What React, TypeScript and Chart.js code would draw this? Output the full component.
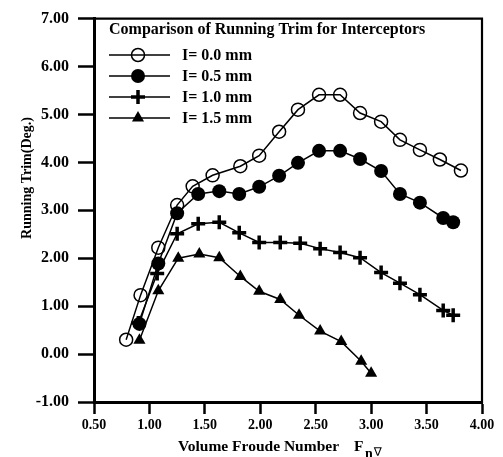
import React, { useEffect, useRef } from "react";
import { Chart, registerables } from "chart.js";

Chart.register(...registerables);

const FONT = "'Liberation Serif', 'Times New Roman', 'DejaVu Serif', serif";

const legendTitle = "Comparison of Running Trim for Interceptors";
const xAxisTitle = "Volume Froude Number";
const xAxisSymbol = "F";
const xAxisSubN = "n";
const xAxisSubNabla = "\u2207";
const yAxisTitle = "Running Trim(Deg.)";

const seriesLabels = ["I= 0.0 mm", "I= 0.5 mm", "I= 1.0 mm", "I= 1.5 mm"];

const fr00 = [0.79, 0.92, 1.08, 1.25, 1.39, 1.57, 1.82, 1.99, 2.17, 2.34, 2.53, 2.72, 2.9, 3.09, 3.26, 3.44, 3.62, 3.81];
const trim00 = [0.3, 1.23, 2.22, 3.11, 3.5, 3.73, 3.92, 4.14, 4.64, 5.1, 5.41, 5.41, 5.03, 4.85, 4.47, 4.26, 4.06, 3.83];

const fr05 = [0.91, 1.08, 1.25, 1.44, 1.63, 1.81, 1.99, 2.17, 2.34, 2.53, 2.72, 2.9, 3.09, 3.26, 3.44, 3.65, 3.74];
const trim05 = [0.63, 1.89, 2.94, 3.34, 3.4, 3.34, 3.49, 3.72, 3.99, 4.24, 4.24, 4.07, 3.82, 3.34, 3.16, 2.84, 2.75];

const fr10 = [0.9, 1.07, 1.25, 1.44, 1.63, 1.81, 1.99, 2.18, 2.36, 2.54, 2.72, 2.9, 3.09, 3.26, 3.44, 3.65, 3.74];
const trim10 = [0.65, 1.68, 2.51, 2.72, 2.75, 2.53, 2.33, 2.33, 2.31, 2.2, 2.12, 2.01, 1.7, 1.48, 1.24, 0.91, 0.81];

const fr15 = [0.91, 1.08, 1.26, 1.45, 1.63, 1.82, 1.99, 2.18, 2.35, 2.54, 2.73, 2.91, 3.0];
const trim15 = [0.29, 1.32, 2.0, 2.09, 2.01, 1.62, 1.31, 1.14, 0.81, 0.48, 0.26, -0.15, -0.4];

const xMin = 0.5;
const xMax = 4.0;
const xStep = 0.5;
const yMin = -1;
const yMax = 7;
const yStep = 1;

const pairs = (xs: number[], ys: number[]) => xs.map((x, i) => ({ x, y: ys[i] }));

type MarkerKind = "open" | "filled" | "cross" | "triangle";
const markerKinds: MarkerKind[] = ["open", "filled", "cross", "triangle"];

function drawMarker(ctx: CanvasRenderingContext2D, kind: MarkerKind, x: number, y: number) {
  ctx.save();
  ctx.strokeStyle = "#000";
  ctx.fillStyle = "#000";
  if (kind === "open") {
    ctx.lineWidth = 1.5;
    ctx.beginPath();
    ctx.arc(x, y, 6.5, 0, Math.PI * 2);
    ctx.stroke();
  } else if (kind === "filled") {
    ctx.beginPath();
    ctx.arc(x, y, 7, 0, Math.PI * 2);
    ctx.fill();
  } else if (kind === "cross") {
    ctx.lineWidth = 3.5;
    ctx.beginPath();
    ctx.moveTo(x - 7, y);
    ctx.lineTo(x + 7, y);
    ctx.moveTo(x, y - 7);
    ctx.lineTo(x, y + 7);
    ctx.stroke();
  } else {
    const r = 7;
    ctx.beginPath();
    ctx.moveTo(x, y - r);
    ctx.lineTo(x + r * Math.sin((2 * Math.PI) / 3), y - r * Math.cos((2 * Math.PI) / 3));
    ctx.lineTo(x + r * Math.sin((4 * Math.PI) / 3), y - r * Math.cos((4 * Math.PI) / 3));
    ctx.closePath();
    ctx.fill();
  }
  ctx.restore();
}

const decorPlugin = {
  id: "decor",
  afterDraw(chart: any) {
    const { ctx, chartArea: a } = chart;
    ctx.save();
    // top and right frame
    ctx.strokeStyle = "#000";
    ctx.lineWidth = 2.2;
    ctx.beginPath();
    ctx.moveTo(a.left - 1, a.top);
    ctx.lineTo(a.right, a.top);
    ctx.lineTo(a.right, a.bottom + 1);
    ctx.stroke();

    // legend title
    ctx.fillStyle = "#000";
    ctx.font = `bold 16px ${FONT}`;
    ctx.textAlign = "left";
    ctx.textBaseline = "middle";
    ctx.fillText(legendTitle, 109, 30);

    const rows = [55, 76, 97, 118];
    seriesLabels.forEach((label, i) => {
      const y = rows[i];
      ctx.strokeStyle = "#000";
      ctx.lineWidth = 1.5;
      ctx.beginPath();
      ctx.moveTo(109, y);
      ctx.lineTo(170, y);
      ctx.stroke();
      drawMarker(ctx, markerKinds[i], 138, y);
      ctx.fillStyle = "#000";
      ctx.font = `bold 16px ${FONT}`;
      ctx.textBaseline = "middle";
      ctx.fillText(label, 182, y + 1);
    });

    // x axis title with subscript
    ctx.font = `bold 15.5px ${FONT}`;
    ctx.textBaseline = "alphabetic";
    ctx.textAlign = "left";
    ctx.fillText(xAxisTitle, 178, 451);
    ctx.fillText(xAxisSymbol, 354, 451);
    ctx.font = `bold 14px ${FONT}`;
    ctx.fillText(xAxisSubN, 365, 458);
    const nw = ctx.measureText(xAxisSubN).width;
    ctx.font = `12px 'DejaVu Sans', sans-serif`;
    ctx.fillText(xAxisSubNabla, 365 + nw + 1, 456);

    // y axis title
    ctx.save();
    ctx.translate(27, 178);
    ctx.rotate(-Math.PI / 2);
    ctx.font = `bold 14px ${FONT}`;
    ctx.textAlign = "center";
    ctx.textBaseline = "middle";
    ctx.fillText(yAxisTitle, 0, 0);
    ctx.restore();

    ctx.restore();
  },
};

export default function App() {
  const ref = useRef<HTMLCanvasElement | null>(null);

  useEffect(() => {
    document.body.style.margin = "0";
    const canvas = ref.current;
    if (!canvas) return;

    const common = {
      showLine: true,
      borderColor: "#000",
      borderWidth: 1.5,
      pointBorderColor: "#000",
      tension: 0,
    };

    const chart = new Chart(canvas, {
      type: "scatter",
      data: {
        datasets: [
          {
            ...common,
            label: seriesLabels[0],
            data: pairs(fr00, trim00),
            pointStyle: "circle",
            pointRadius: 6.5,
            pointBorderWidth: 1.5,
            pointBackgroundColor: "rgba(0,0,0,0)",
          },
          {
            ...common,
            label: seriesLabels[1],
            data: pairs(fr05, trim05),
            pointStyle: "circle",
            pointRadius: 7,
            pointBorderWidth: 0,
            pointBackgroundColor: "#000",
          },
          {
            ...common,
            label: seriesLabels[2],
            data: pairs(fr10, trim10),
            pointStyle: "cross",
            pointRadius: 7,
            pointBorderWidth: 3.5,
            pointBackgroundColor: "#000",
          },
          {
            ...common,
            label: seriesLabels[3],
            data: pairs(fr15, trim15),
            pointStyle: "triangle",
            pointRadius: 7,
            pointBorderWidth: 0,
            pointBackgroundColor: "#000",
          },
        ],
      },
      options: {
        animation: false,
        responsive: false,
        devicePixelRatio: 1,
        layout: { padding: { left: 0, right: 21, top: 14, bottom: 0 } },
        plugins: {
          legend: { display: false },
          tooltip: { enabled: false },
          title: { display: false },
        },
        scales: {
          x: {
            type: "linear",
            min: xMin,
            max: xMax,
            afterFit: (scale: any) => {
              scale.height = 55;
            },
            ticks: {
              stepSize: xStep,
              color: "#000",
              padding: 3,
              font: { family: FONT, size: 14, weight: "bold" },
              callback: (v: any) => Number(v).toFixed(2),
            },
            grid: {
              display: true,
              drawOnChartArea: false,
              drawTicks: true,
              tickLength: 12,
              tickWidth: 2.5,
              tickColor: "#000",
            },
            border: { display: true, color: "#000", width: 3 },
          },
          y: {
            type: "linear",
            min: yMin,
            max: yMax,
            afterFit: (scale: any) => {
              scale.width = 94;
            },
            ticks: {
              stepSize: yStep,
              color: "#000",
              padding: 9,
              font: { family: FONT, size: 16, weight: "bold" },
              callback: (v: any) => Number(v).toFixed(2),
            },
            grid: {
              display: true,
              drawOnChartArea: false,
              drawTicks: true,
              tickLength: 16,
              tickWidth: 2.5,
              tickColor: "#000",
            },
            border: { display: true, color: "#000", width: 3 },
          },
        },
      },
      plugins: [decorPlugin],
    });

    return () => chart.destroy();
  }, []);

  return (
    <div style={{ position: "fixed", left: 0, top: 0, width: 503, height: 457, background: "#fff" }}>
      <canvas ref={ref} width={503} height={457} />
    </div>
  );
}
